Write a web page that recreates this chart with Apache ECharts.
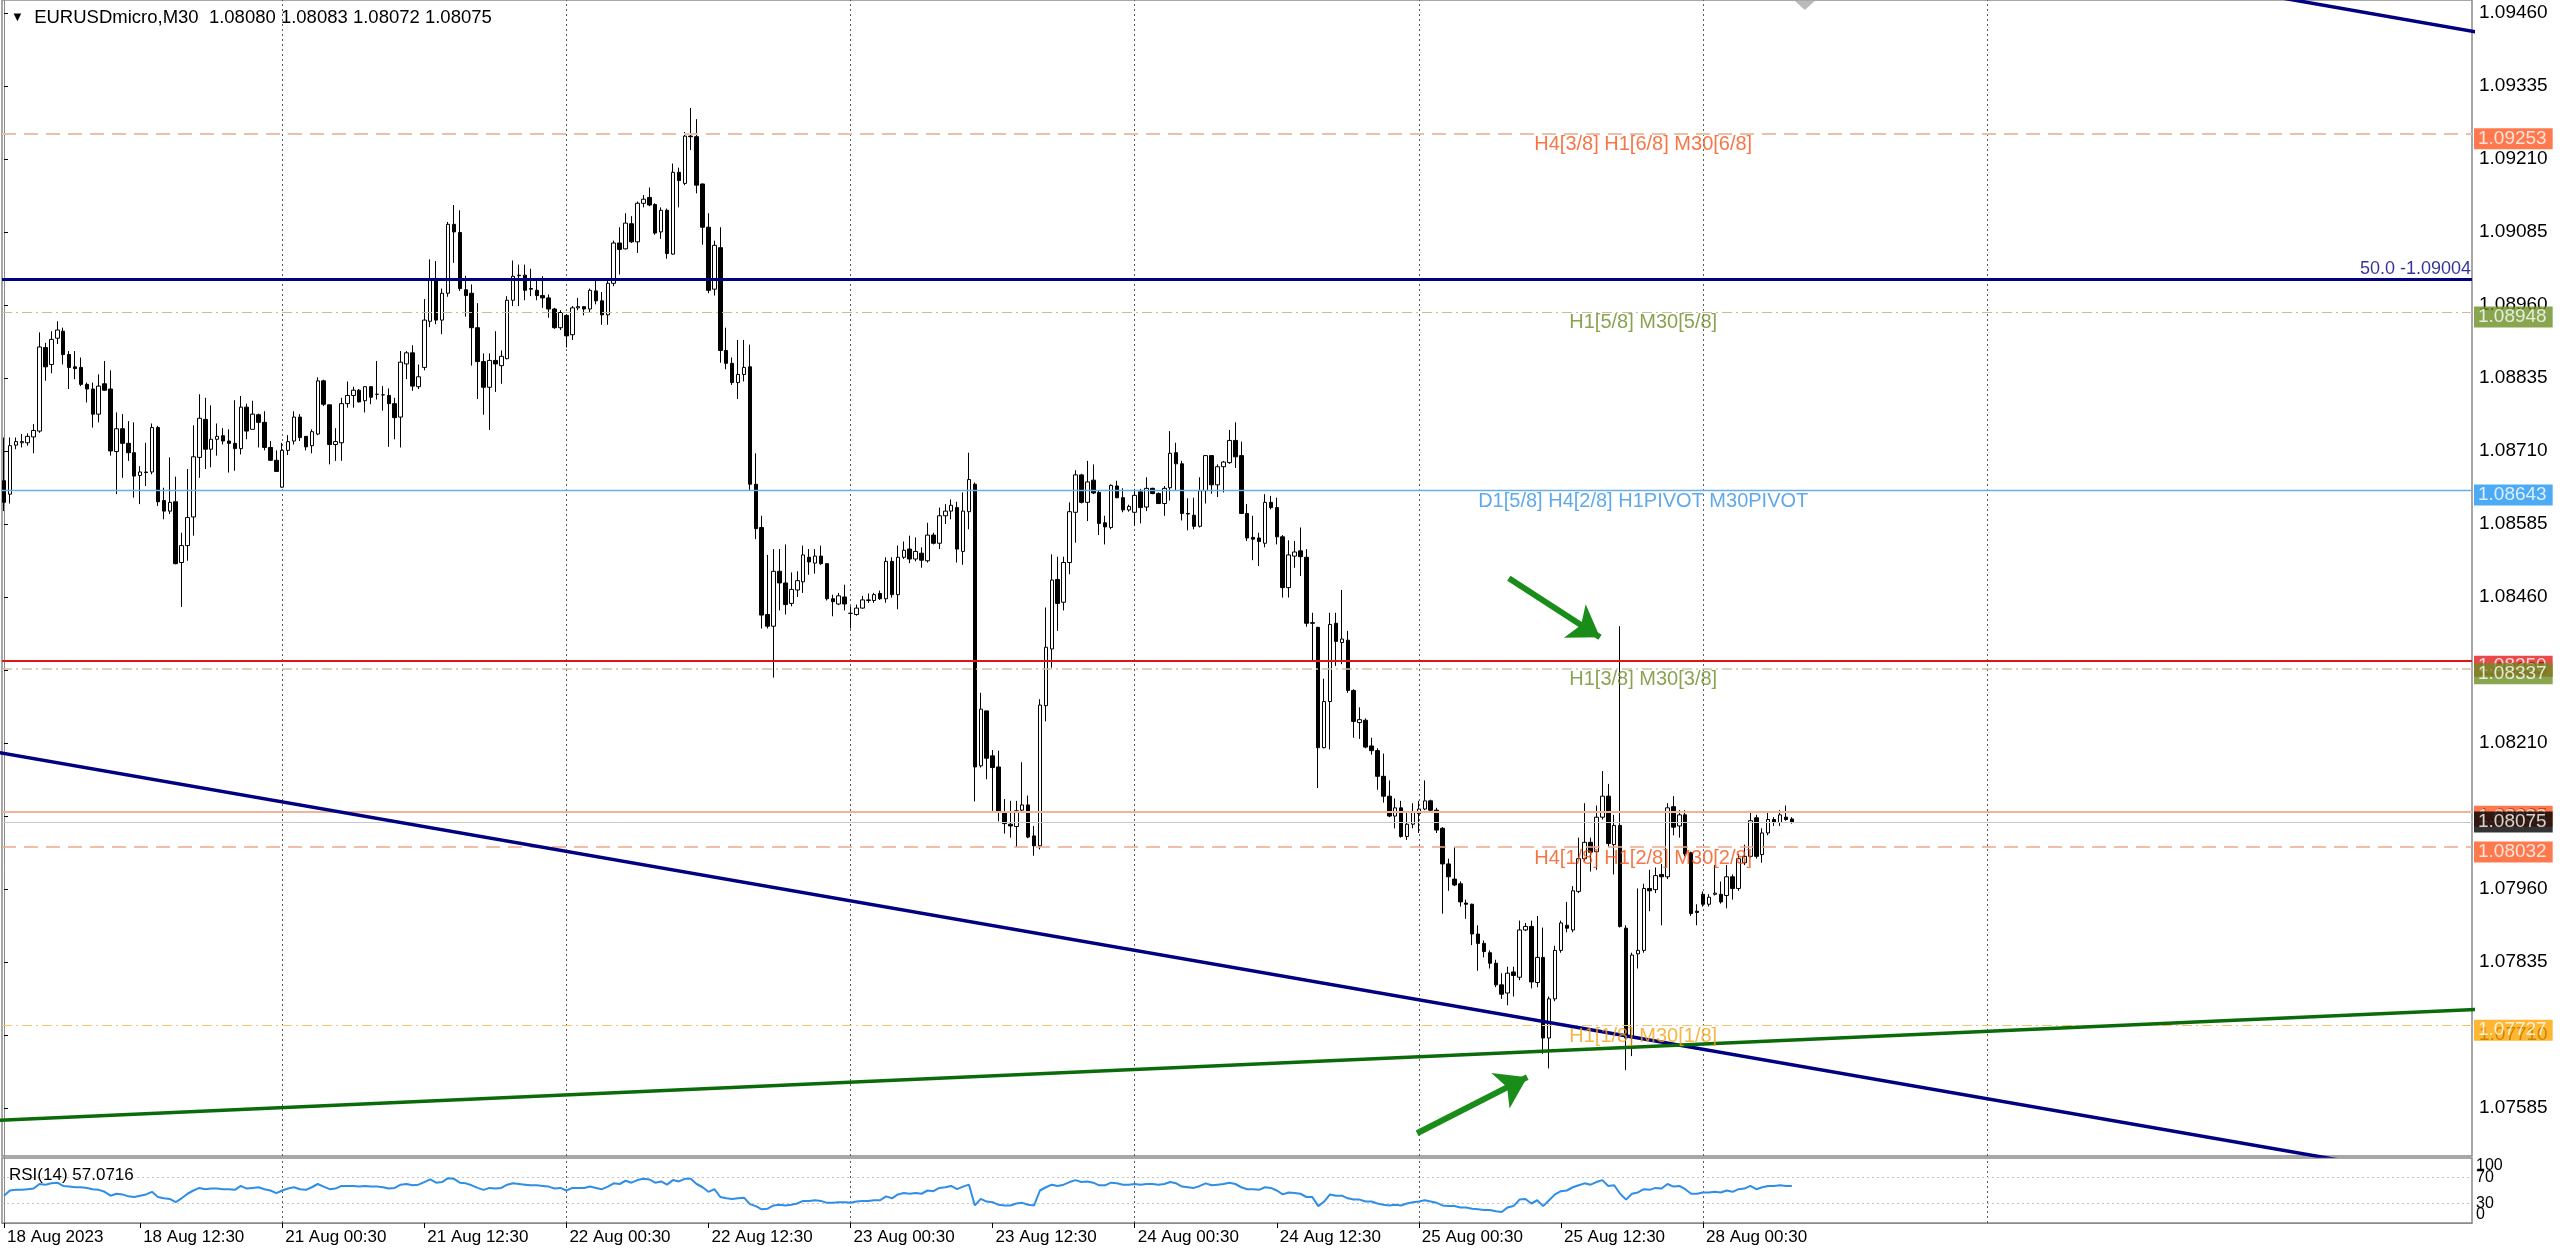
<!DOCTYPE html>
<html><head><meta charset="utf-8">
<script src="https://cdn.jsdelivr.net/npm/echarts@6/dist/echarts.min.js"></script>
<style>html,body{margin:0;padding:0;background:#fff}#c{width:2560px;height:1250px}</style>
</head><body><div id="c"></div>
<script>
// ---- data (M30 bars, index 0 = 18 Aug 2023 01:00) ----
const open = [
1.08659,1.08636,1.08720,1.08724,1.08724,1.08734,1.08744,1.08887,1.08858,1.08903,
1.08915,1.08875,1.08854,1.08853,1.08824,1.08816,1.08773,1.08825,1.08816,1.08709,
1.08748,1.08723,1.08707,1.08668,1.08674,1.08674,1.08750,1.08625,1.08607,1.08623,
1.08519,1.08548,1.08597,1.08699,1.08764,1.08713,1.08730,1.08736,1.08727,1.08723,
1.08714,1.08785,1.08747,1.08772,1.08759,1.08716,1.08694,1.08648,1.08711,1.08727,
1.08768,1.08735,1.08719,1.08739,1.08830,1.08789,1.08721,1.08724,1.08791,1.08805,
1.08814,1.08796,1.08820,1.08807,1.08806,1.08805,1.08791,1.08768,1.08859,1.08878,
1.08820,1.08853,1.08932,1.09004,1.08934,1.08980,1.09098,1.09084,1.08986,1.08980,
1.08921,1.08863,1.08819,1.08865,1.08856,1.08868,1.08968,1.09010,1.09011,1.08988,
1.08985,1.08976,1.08972,1.08953,1.08921,1.08942,1.08909,1.08955,1.08957,1.08953,
1.08984,1.08967,1.08943,1.08997,1.09066,1.09056,1.09099,1.09068,1.09134,1.09144,
1.09132,1.09085,1.09122,1.09047,1.09187,1.09168,1.09249,1.09248,1.09167,1.09093,
1.08987,1.09058,1.08882,1.08860,1.08827,1.08841,1.08854,1.08653,1.08579,1.08430,
1.08410,1.08504,1.08484,1.08449,1.08472,1.08486,1.08528,1.08518,1.08530,1.08517,
1.08457,1.08448,1.08460,1.08432,1.08430,1.08441,1.08454,1.08454,1.08466,1.08457,
1.08521,1.08464,1.08528,1.08542,1.08525,1.08535,1.08522,1.08566,1.08552,1.08599,
1.08607,1.08613,1.08538,1.08606,1.08653,1.08171,1.08265,1.08188,1.08169,1.08090,
1.08071,1.08067,1.08095,1.08104,1.08051,1.08034,1.08274,1.08371,1.08490,1.08451,
1.08519,1.08605,1.08669,1.08622,1.08660,1.08639,1.08587,1.08579,1.08650,1.08630,
1.08609,1.08605,1.08640,1.08614,1.08646,1.08637,1.08620,1.08647,1.08707,1.08688,
1.08603,1.08600,1.08581,1.08642,1.08702,1.08652,1.08683,1.08690,1.08728,1.08702,
1.08603,1.08562,1.08561,1.08552,1.08622,1.08613,1.08563,1.08476,1.08530,1.08539,
1.08528,1.08416,1.08408,1.08202,1.08281,1.08415,1.08382,1.08386,1.08300,1.08245,
1.08249,1.08205,1.08197,1.08153,1.08119,1.08085,1.08099,1.08050,1.08071,1.08089,
1.08097,1.08111,1.08095,1.08064,1.08003,1.07977,1.07969,1.07936,1.07934,1.07883,
1.07867,1.07851,1.07833,1.07796,1.07782,1.07818,1.07809,1.07890,1.07896,1.07800,
1.07843,1.07705,1.07772,1.07855,1.07898,1.07890,1.07956,1.08012,1.08040,1.08024,
1.08083,1.08119,1.08036,1.08069,1.07893,1.07705,1.07849,1.07855,1.07961,1.07959,
1.07985,1.07981,1.08101,1.08068,1.08087,1.08022,1.07922,1.07951,1.07934,1.07951,
1.07951,1.07949,1.07981,1.07961,1.08005,1.08016,1.08082,1.08019,1.08056,1.08079,
1.08074,1.08083,1.08080];
const high = [
1.08733,1.08733,1.08733,1.08739,1.08740,1.08756,1.08913,1.08895,1.08915,1.08932,
1.08921,1.08881,1.08881,1.08870,1.08827,1.08827,1.08841,1.08864,1.08848,1.08776,
1.08773,1.08761,1.08759,1.08684,1.08724,1.08757,1.08753,1.08647,1.08699,1.08666,
1.08570,1.08679,1.08754,1.08807,1.08801,1.08788,1.08757,1.08749,1.08747,1.08797,
1.08804,1.08791,1.08796,1.08774,1.08778,1.08727,1.08711,1.08724,1.08737,1.08778,
1.08773,1.08735,1.08747,1.08836,1.08832,1.08789,1.08749,1.08801,1.08829,1.08820,
1.08816,1.08821,1.08821,1.08864,1.08821,1.08817,1.08801,1.08881,1.08881,1.08891,
1.08858,1.08970,1.09038,1.09035,1.08988,1.09102,1.09131,1.09122,1.09010,1.08995,
1.08963,1.08877,1.08877,1.08915,1.08882,1.08975,1.09036,1.09029,1.09029,1.09022,
1.09005,1.09009,1.08978,1.08955,1.08951,1.08944,1.08958,1.08972,1.08958,1.08988,
1.09002,1.08982,1.09002,1.09070,1.09093,1.09117,1.09112,1.09137,1.09148,1.09161,
1.09134,1.09127,1.09125,1.09202,1.09195,1.09256,1.09297,1.09278,1.09168,1.09117,
1.09070,1.09093,1.08921,1.08870,1.08900,1.08900,1.08892,1.08706,1.08599,1.08532,
1.08542,1.08542,1.08550,1.08502,1.08504,1.08548,1.08542,1.08542,1.08548,1.08518,
1.08464,1.08467,1.08481,1.08444,1.08447,1.08462,1.08466,1.08467,1.08471,1.08528,
1.08528,1.08548,1.08555,1.08565,1.08562,1.08545,1.08587,1.08570,1.08613,1.08619,
1.08627,1.08623,1.08639,1.08707,1.08656,1.08296,1.08265,1.08198,1.08197,1.08114,
1.08111,1.08111,1.08177,1.08120,1.08068,1.08285,1.08442,1.08533,1.08529,1.08529,
1.08622,1.08677,1.08671,1.08693,1.08687,1.08642,1.08599,1.08653,1.08659,1.08646,
1.08618,1.08645,1.08645,1.08665,1.08647,1.08639,1.08650,1.08744,1.08724,1.08693,
1.08629,1.08630,1.08665,1.08703,1.08703,1.08687,1.08693,1.08746,1.08759,1.08726,
1.08619,1.08599,1.08570,1.08636,1.08633,1.08630,1.08566,1.08557,1.08556,1.08579,
1.08542,1.08433,1.08409,1.08320,1.08433,1.08433,1.08472,1.08402,1.08302,1.08271,
1.08252,1.08219,1.08201,1.08192,1.08146,1.08115,1.08111,1.08091,1.08107,1.08111,
1.08146,1.08113,1.08099,1.08066,1.08012,1.08032,1.07973,1.07942,1.07935,1.07898,
1.07872,1.07855,1.07839,1.07816,1.07827,1.07827,1.07906,1.07902,1.07906,1.07914,
1.07894,1.07776,1.07863,1.07906,1.07938,1.07965,1.08048,1.08107,1.08048,1.08103,
1.08162,1.08140,1.08087,1.08410,1.07898,1.07851,1.07961,1.07969,1.07993,1.07997,
1.08003,1.08107,1.08119,1.08095,1.08095,1.08024,1.07934,1.07956,1.07951,1.08001,
1.07973,1.08001,1.07985,1.08020,1.08036,1.08091,1.08087,1.08064,1.08091,1.08083,
1.08095,1.08103,1.08083];
const low = [
1.08607,1.08620,1.08713,1.08716,1.08719,1.08706,1.08741,1.08830,1.08843,1.08893,
1.08858,1.08816,1.08833,1.08821,1.08793,1.08750,1.08759,1.08813,1.08702,1.08636,
1.08664,1.08693,1.08630,1.08619,1.08650,1.08670,1.08616,1.08593,1.08602,1.08516,
1.08443,1.08522,1.08565,1.08664,1.08679,1.08682,1.08702,1.08721,1.08673,1.08676,
1.08704,1.08730,1.08747,1.08716,1.08711,1.08693,1.08675,1.08647,1.08703,1.08721,
1.08727,1.08711,1.08706,1.08737,1.08787,1.08687,1.08693,1.08693,1.08784,1.08784,
1.08793,1.08776,1.08790,1.08798,1.08779,1.08717,1.08730,1.08716,1.08833,1.08813,
1.08816,1.08848,1.08922,1.08927,1.08910,1.08974,1.09032,1.08984,1.08940,1.08856,
1.08799,1.08772,1.08746,1.08811,1.08825,1.08867,1.08958,1.08958,1.08968,1.08975,
1.08968,1.08955,1.08938,1.08919,1.08917,1.08887,1.08900,1.08951,1.08942,1.08948,
1.08961,1.08926,1.08926,1.08992,1.09012,1.09055,1.09066,1.09049,1.09127,1.09129,
1.09080,1.09073,1.09039,1.09046,1.09127,1.09165,1.09225,1.09151,1.09063,1.08980,
1.08976,1.08861,1.08850,1.08823,1.08799,1.08829,1.08642,1.08559,1.08406,1.08406,
1.08322,1.08437,1.08430,1.08444,1.08460,1.08467,1.08498,1.08500,1.08515,1.08454,
1.08427,1.08446,1.08437,1.08406,1.08428,1.08440,1.08450,1.08450,1.08455,1.08450,
1.08459,1.08439,1.08525,1.08518,1.08521,1.08510,1.08519,1.08550,1.08542,1.08585,
1.08593,1.08519,1.08515,1.08576,1.08110,1.08168,1.08148,1.08094,1.08076,1.08055,
1.08048,1.08032,1.08091,1.08047,1.08017,1.08028,1.08247,1.08339,1.08402,1.08437,
1.08499,1.08553,1.08620,1.08590,1.08636,1.08566,1.08550,1.08576,1.08629,1.08605,
1.08606,1.08582,1.08586,1.08607,1.08636,1.08619,1.08599,1.08625,1.08642,1.08591,
1.08574,1.08576,1.08579,1.08620,1.08637,1.08631,1.08639,1.08688,1.08681,1.08602,
1.08556,1.08523,1.08513,1.08545,1.08610,1.08550,1.08459,1.08459,1.08510,1.08496,
1.08409,1.08351,1.08133,1.08201,1.08199,1.08342,1.08345,1.08296,1.08219,1.08217,
1.08201,1.08190,1.08130,1.08108,1.08083,1.08064,1.08048,1.08044,1.08064,1.08056,
1.08095,1.08091,1.08056,1.07918,1.07957,1.07965,1.07930,1.07909,1.07864,1.07820,
1.07843,1.07824,1.07792,1.07772,1.07761,1.07776,1.07804,1.07888,1.07790,1.07792,
1.07678,1.07653,1.07768,1.07851,1.07886,1.07886,1.07953,1.08008,1.07990,1.07993,
1.08079,1.08032,1.07985,1.07894,1.07650,1.07674,1.07824,1.07851,1.07922,1.07953,
1.07898,1.07977,1.08052,1.08048,1.08016,1.07914,1.07898,1.07930,1.07930,1.07949,
1.07935,1.07927,1.07942,1.07957,1.08001,1.08014,1.08012,1.08005,1.08052,1.08068,
1.08068,1.08077,1.08072];
const close = [
1.08622,1.08719,1.08726,1.08726,1.08735,1.08745,1.08888,1.08854,1.08901,1.08917,
1.08875,1.08853,1.08851,1.08824,1.08816,1.08773,1.08821,1.08814,1.08710,1.08748,
1.08723,1.08707,1.08667,1.08674,1.08673,1.08750,1.08623,1.08607,1.08622,1.08517,
1.08548,1.08596,1.08700,1.08766,1.08713,1.08730,1.08735,1.08727,1.08723,1.08714,
1.08785,1.08744,1.08773,1.08759,1.08716,1.08694,1.08675,1.08711,1.08726,1.08768,
1.08733,1.08717,1.08743,1.08830,1.08790,1.08721,1.08726,1.08791,1.08805,1.08814,
1.08794,1.08820,1.08802,1.08807,1.08806,1.08791,1.08767,1.08862,1.08878,1.08821,
1.08837,1.08934,1.09004,1.08934,1.08980,1.09098,1.09085,1.08988,1.08976,1.08921,
1.08863,1.08819,1.08865,1.08859,1.08872,1.08968,1.09009,1.09011,1.08985,1.08987,
1.08976,1.08972,1.08953,1.08921,1.08947,1.08907,1.08955,1.08957,1.08953,1.08985,
1.08967,1.08943,1.08997,1.09066,1.09055,1.09100,1.09068,1.09134,1.09141,1.09131,
1.09083,1.09122,1.09048,1.09187,1.09173,1.09249,1.09248,1.09165,1.09093,1.08985,
1.09062,1.08882,1.08860,1.08827,1.08841,1.08853,1.08653,1.08577,1.08429,1.08410,
1.08504,1.08484,1.08447,1.08473,1.08488,1.08532,1.08520,1.08530,1.08517,1.08457,
1.08452,1.08462,1.08448,1.08432,1.08441,1.08455,1.08455,1.08464,1.08457,1.08521,
1.08464,1.08528,1.08540,1.08525,1.08538,1.08523,1.08566,1.08552,1.08599,1.08607,
1.08617,1.08542,1.08607,1.08661,1.08169,1.08268,1.08184,1.08168,1.08091,1.08072,
1.08068,1.08094,1.08104,1.08049,1.08034,1.08275,1.08374,1.08489,1.08449,1.08519,
1.08606,1.08669,1.08622,1.08657,1.08638,1.08586,1.08580,1.08651,1.08630,1.08609,
1.08615,1.08634,1.08613,1.08646,1.08637,1.08620,1.08646,1.08706,1.08688,1.08603,
1.08602,1.08581,1.08642,1.08702,1.08652,1.08683,1.08691,1.08728,1.08700,1.08603,
1.08561,1.08559,1.08555,1.08622,1.08613,1.08563,1.08476,1.08532,1.08537,1.08529,
1.08415,1.08415,1.08202,1.08281,1.08413,1.08384,1.08388,1.08300,1.08247,1.08250,
1.08203,1.08197,1.08153,1.08119,1.08085,1.08099,1.08050,1.08071,1.08091,1.08097,
1.08111,1.08095,1.08061,1.08003,1.07981,1.07967,1.07938,1.07934,1.07883,1.07867,
1.07853,1.07833,1.07796,1.07780,1.07816,1.07812,1.07890,1.07896,1.07801,1.07843,
1.07705,1.07772,1.07855,1.07902,1.07893,1.07957,1.08012,1.08040,1.08023,1.08083,
1.08119,1.08038,1.08069,1.07896,1.07705,1.07847,1.07855,1.07961,1.07957,1.07983,
1.07981,1.08099,1.08066,1.08087,1.08020,1.07918,1.07920,1.07934,1.07946,1.07953,
1.07938,1.07981,1.07961,1.08012,1.08016,1.08077,1.08016,1.08056,1.08079,1.08074,
1.08087,1.08079,1.08075];
const rsi = [
42,50,51,51,52,53,60,59,61,62, 57,56,55,55,54,52,51,48,42,45,
44,41,40,42,44,48,40,38,37,32, 38,45,50,54,52,53,53,52,52,51,
57,53,54,55,52,50,46,50,53,55, 52,51,55,60,56,52,53,57,57,57,
56,57,56,56,55,53,54,59,60,58, 59,63,67,62,63,69,68,62,61,58,
54,51,54,53,54,59,61,60,59,58, 58,57,56,53,54,50,54,54,54,56,
54,52,56,61,60,65,62,66,68,67, 62,64,59,66,64,68,68,60,55,48,
52,40,38,37,38,39,29,26,21,22, 27,28,27,28,30,34,34,35,34,31,
31,32,32,31,33,34,34,35,35,41, 38,44,46,45,46,45,50,49,54,55,
57,52,56,59,27,37,33,32,28,27, 27,30,31,28,27,50,55,59,57,59,
63,66,63,64,62,58,58,62,61,59, 59,60,59,60,60,59,60,63,61,56,
55,54,57,61,58,59,60,62,60,55, 52,52,51,55,54,50,44,47,46,45,
40,40,26,33,44,42,42,38,36,36, 33,33,30,28,27,28,27,30,32,33,
35,33,31,27,26,26,24,24,22,21, 20,20,18,17,24,26,36,37,30,35,
26,35,44,49,50,55,58,61,59,63, 66,57,58,45,36,45,47,52,51,54,
53,60,56,57,52,45,45,47,47,48, 47,50,48,52,53,57,52,55,57,57,
58,57,57.0716];

// time axis labels (bar index -> text) and day separators
const tickIdx = [0,23,47,71,95,119,143,167,191,215,239,263,287];
const tickLabels = ['18 Aug 2023','18 Aug 12:30','21 Aug 00:30','21 Aug 12:30','22 Aug 00:30','22 Aug 12:30',
  '23 Aug 00:30','23 Aug 12:30','24 Aug 00:30','24 Aug 12:30','25 Aug 00:30','25 Aug 12:30','28 Aug 00:30'];
const gridIdx = [47,95,143,191,239,287,335];
const priceTicks = [1.07585,1.07710,1.07835,1.07960,1.08085,1.08210,1.08335,1.08460,1.08585,1.08710,
  1.08835,1.08960,1.09085,1.09210,1.09335,1.09460];
const rsiLevelTicks = [30,70];
const rsiEdgeTicks = [0,100];

// horizontal levels
const levels = [1.09253,1.09004,1.08948,1.08643,1.08350,1.08337,1.08093,1.08075,1.08032,1.07727];
const levelTextValues = [1.09253,1.08948,1.08643,1.08337,1.08032,1.07727];
const levelTexts = ['H4[3/8] H1[6/8] M30[6/8]','H1[5/8] M30[5/8]','D1[5/8] H4[2/8] H1PIVOT M30PIVOT',
  'H1[3/8] M30[3/8]','H4[1/8] H1[2/8] M30[2/8]','H1[1/8] M30[1/8]'];
const fiboValue = 1.09004, fiboText = '50.0 -1.09004';

// trend lines (bar index, price)
const trendDown1 = [[-1,1.08194],[420,1.07451]];
const trendDown2 = [[380,1.09494],[420,1.09423]];
const trendUp = [[-1,1.07564],[420,1.07755]];
const arrowLines = [[[254.2,1.08492],[269.6,1.08391]],[[238.7,1.07542],[257.3,1.07638]]];
const markerPoint = [304.2,1.09482];

const header = 'EURUSDmicro,M30  1.08080 1.08083 1.08072 1.08075';
const rsiTitle = 'RSI(14) 57.0716';

if (![high,low,close,rsi].every(a=>a.length===open.length)) throw new Error('length mismatch');

// ---- styles ----
const XMIN = -0.338, XMAX = 416.9, YMIN = 1.07503, YMAX = 1.09482;
const FONT = 'Liberation Sans, Arial, sans-serif';
const levelLook = [
 {color:'#e8c0ab', width:2, type:[14,8], box:'#ff5722'},
 {color:'#000080', width:3, type:'solid', box:null},
 {color:'#c9bb9e', width:1, type:[10,4,2,4], box:'#6b8e23'},
 {color:'#6aaee6', width:1.4, type:'solid', box:'#2196f3'},
 {color:'#e01515', width:2, type:'solid', box:'#e31b1b'},
 {color:'#cdc3a5', width:1.5, type:[10,4,2,4], box:'#6b8e23'},
 {color:'#f0b49a', width:2, type:'solid', box:'#ff5722'},
 {color:'#c8c8c8', width:1, type:'solid', box:'#000000', center:true},
 {color:'#eca88c', width:1.5, type:[14,8], box:'#ff5722'},
 {color:'#f2c46c', width:1, type:[10,4,2,4], box:'#ffa500'}
];
const levelTextColors = ['#f25418','#6a8c25','#3893e2','#6a8c25','#f25418','#f5a314'];
const LABEL_X = 276.9;

const chart = echarts.init(document.getElementById('c'), null, {renderer:'canvas'});
const rsiAxisBase = {type:'value', gridIndex:1, position:'right', min:0, max:100, axisTick:{show:false}, splitLine:{show:false}};
const option = {
  animation:false,
  backgroundColor:'#ffffff',
  textStyle:{fontFamily:FONT},
  title:[
    {text:'{t|▼}  '+header, left:6, top:3,
     textStyle:{fontSize:18.5, fontWeight:'normal', color:'#000', fontFamily:FONT, rich:{t:{fontSize:13, color:'#000'}}}},
    {text:rsiTitle, left:4, top:1162, textStyle:{fontSize:17, fontWeight:'normal', color:'#000', fontFamily:FONT}}
  ],
  grid:[
    {left:2, right:88, top:0, height:1156, show:true, borderColor:'#8a8a8a', borderWidth:1.5, backgroundColor:'transparent'},
    {left:2, right:88, top:1158, height:65, show:true, borderColor:'#8a8a8a', borderWidth:1.5, backgroundColor:'transparent'}
  ],
  xAxis:[
    {type:'value', gridIndex:0, min:XMIN, max:XMAX, axisLine:{show:false}, axisTick:{show:false}, axisLabel:{show:false}, splitLine:{show:false}},
    {type:'value', gridIndex:1, min:XMIN, max:XMAX, axisLine:{show:true, lineStyle:{color:'#8a8a8a'}},
     axisTick:{show:true, customValues:tickIdx, length:5, lineStyle:{color:'#000'}},
     axisLabel:{show:true, customValues:tickIdx, align:'left', margin:6, padding:[0,0,0,3], fontSize:17, color:'#000', fontFamily:FONT,
       formatter:(v)=>{const k=tickIdx.indexOf(Math.round(v)); return k>=0?tickLabels[k]:'';}},
     splitLine:{show:false}}
  ],
  yAxis:[
    {type:'value', gridIndex:0, position:'right', min:YMIN, max:YMAX,
     axisLine:{show:true, lineStyle:{color:'#8a8a8a'}},
     axisTick:{show:true, customValues:priceTicks, length:4, lineStyle:{color:'#000'}},
     axisLabel:{show:true, customValues:priceTicks, margin:7, fontSize:19, color:'#000', fontFamily:FONT, formatter:(v)=>v.toFixed(5)},
     splitLine:{show:false}},
    Object.assign({}, rsiAxisBase, {axisLine:{show:true, lineStyle:{color:'#8a8a8a'}},
     axisLabel:{show:true, customValues:rsiLevelTicks, margin:4, fontSize:16, color:'#000', fontFamily:FONT}}),
    Object.assign({}, rsiAxisBase, {axisLine:{show:false},
     axisLabel:{show:true, customValues:rsiEdgeTicks, showMinLabel:true, showMaxLabel:true, margin:4, fontSize:16, color:'#000', fontFamily:FONT,
       verticalAlignMaxLabel:'top', verticalAlignMinLabel:'bottom'}})
  ],
  series:[]
};
const S = option.series;
// day separators
S.push({type:'lines', coordinateSystem:'cartesian2d', xAxisIndex:0, yAxisIndex:0, z:1, silent:true,
  data:gridIdx.map(g=>({coords:[[g,YMIN],[g,YMAX]]})), lineStyle:{color:'#5a5a5a', width:1, type:[2,3], opacity:1}});
S.push({type:'lines', coordinateSystem:'cartesian2d', xAxisIndex:1, yAxisIndex:1, z:1, silent:true,
  data:gridIdx.map(g=>({coords:[[g,0],[g,100]]})), lineStyle:{color:'#5a5a5a', width:1, type:[2,3], opacity:1}});
S.push({type:'lines', coordinateSystem:'cartesian2d', xAxisIndex:1, yAxisIndex:1, z:1, silent:true,
  data:rsiLevelTicks.map(v=>({coords:[[XMIN,v],[XMAX,v]]})), lineStyle:{color:'#c4c4c4', width:1, type:[2,3], opacity:1}});
// candles
S.push({type:'candlestick', xAxisIndex:0, yAxisIndex:0, z:3, barWidth:4,
  dimensions:['idx','open','close','lowest','highest'],
  encode:{x:'idx', y:['open','close','lowest','highest']},
  data:open.map((o,i)=>[i,o,close[i],low[i],high[i]]),
  itemStyle:{color:'#ffffff', color0:'#000000', borderColor:'#000000', borderColor0:'#000000', borderWidth:1}});
// horizontal levels
S.push({type:'lines', coordinateSystem:'cartesian2d', xAxisIndex:0, yAxisIndex:0, z:4, silent:true,
  data:levels.map((v,k)=>({coords:[[XMIN,v],[XMAX,v]],
    lineStyle:{color:levelLook[k].color, width:levelLook[k].width, type:levelLook[k].type, opacity:1}})),
  lineStyle:{opacity:1}});
// trend lines
[[trendDown1,'#000080'],[trendDown2,'#000080'],[trendUp,'#0b6b0b']].forEach(([d,c])=>{
  S.push({type:'line', xAxisIndex:0, yAxisIndex:0, z:4, data:d, showSymbol:false, symbol:'none', clip:true,
    lineStyle:{color:c, width:3.5}, silent:true});
});
// arrows
S.push({type:'lines', coordinateSystem:'cartesian2d', xAxisIndex:0, yAxisIndex:0, z:5, silent:true,
  data:arrowLines.map(c=>({coords:c})), symbol:['none','arrow'], symbolSize:[24,30],
  lineStyle:{color:'#1a8c1a', width:6, opacity:1, curveness:0}});
// gray marker at top
S.push({type:'scatter', xAxisIndex:0, yAxisIndex:0, z:5, clip:true, symbol:'diamond', symbolSize:[22,20],
  itemStyle:{color:'#a9a9a9'}, data:[markerPoint], silent:true});
// level text labels
S.push({type:'scatter', xAxisIndex:0, yAxisIndex:0, z:6, symbolSize:0, clip:false, silent:true,
  data:levelTextValues.map((v,k)=>({value:[LABEL_X,v], label:{show:true, position:'inside', offset:[0,11],
    formatter:levelTexts[k], color:levelTextColors[k], fontSize:20, fontFamily:FONT}}))});
// fibo label
S.push({type:'scatter', xAxisIndex:0, yAxisIndex:0, z:6, symbolSize:0, clip:false, silent:true,
  data:[{value:[XMAX,fiboValue], label:{show:true, position:'left', distance:1, offset:[0,-10], formatter:fiboText,
    color:'#000080', fontSize:18, fontFamily:FONT}}]});
// price boxes on axis
S.push({type:'scatter', xAxisIndex:0, yAxisIndex:0, z:7, symbolSize:0, clip:false, silent:true,
  data:levels.map((v,k)=>levelLook[k].box ? ({value:[XMAX,v], label:{show:true, position:'right', distance:2,
    offset:[0, levelLook[k].center?0:5], formatter:v.toFixed(5), color:'#ffffff', backgroundColor:levelLook[k].box,
    padding:[1,6,1,4], fontSize:19, fontFamily:FONT, lineHeight:19}}) : null).filter(Boolean)});
// RSI
S.push({type:'line', xAxisIndex:1, yAxisIndex:1, z:4, data:rsi.map((v,i)=>[i,v]), showSymbol:false, symbol:'none',
  lineStyle:{color:'#2f8ee5', width:2}, silent:true});

chart.setOption(option);
</script>
</body></html>
